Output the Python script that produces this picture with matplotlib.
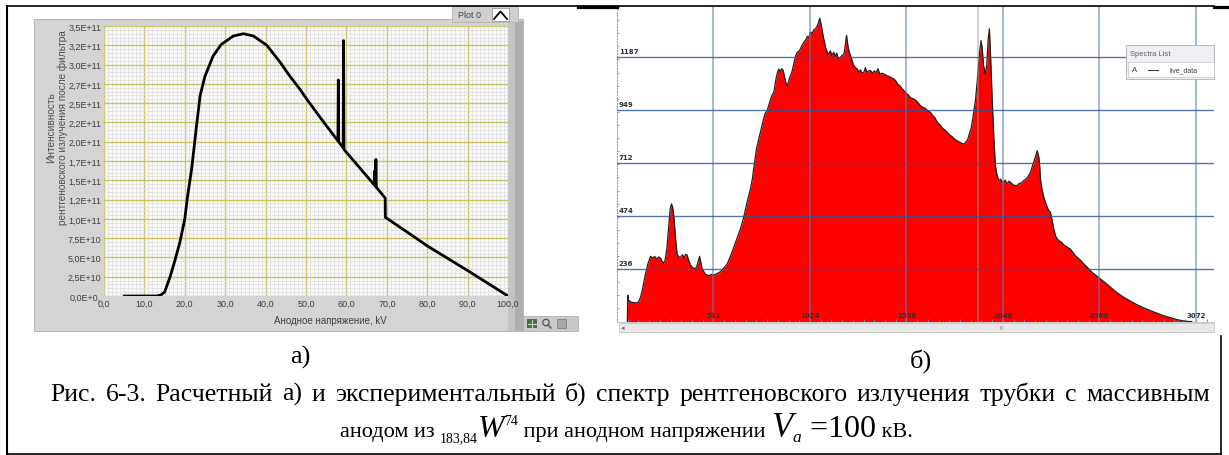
import matplotlib
matplotlib.use("Agg")
import matplotlib.pyplot as plt
from matplotlib.patches import Rectangle, Circle
from matplotlib.ticker import MultipleLocator

W, H = 1229, 456

# calculated spectrum (tube voltage 100 kV), intensity in units of 1e11
kv = [5.0, 13.0, 14.0, 15.0, 16.3, 17.5, 18.8, 20.0, 20.6, 21.7, 23.0, 23.8,
      25.0, 27.0, 29.0, 32.0, 34.5, 37.0, 40.3, 43.6, 46.0, 48.5, 50.2, 54.0,
      57.9, 58.0, 58.1, 59.2, 59.3, 59.4, 62.0, 66.9, 67.0, 67.1, 67.2, 67.3,
      67.4, 69.6, 69.65, 75.0, 80.0, 85.0, 90.0, 95.0, 100.0]
intensity = [0.0, 0.0, 0.01, 0.05, 0.24, 0.45, 0.70, 1.00, 1.26, 1.65, 2.25, 2.60,
             2.85, 3.11, 3.26, 3.37, 3.40, 3.37, 3.25, 3.03, 2.85, 2.68, 2.55, 2.28,
             2.01, 2.80, 2.00, 1.92, 3.31, 1.90, 1.74, 1.44, 1.62, 1.43, 1.42, 1.77,
             1.41, 1.27, 1.02, 0.83, 0.65, 0.49, 0.33, 0.165, 0.0]

kv_ticks = [0, 10, 20, 30, 40, 50, 60, 70, 80, 90, 100]
int_ticks = [0.0, 0.25, 0.5, 0.75, 1.0, 1.25, 1.5, 1.75, 2.0, 2.25, 2.5, 2.75, 3.0, 3.25, 3.5]
int_labels = ["0,0E+0,", "2,5E+10", "5,0E+10", "7,5E+10", "1,0E+11", "1,2E+11",
              "1,5E+11", "1,7E+11", "2,0E+11", "2,2E+11", "2,5E+11", "2,7E+11",
              "3,0E+11", "3,2E+11", "3,5E+11"]

# measured spectrum (counts per channel)
channel = [55, 57, 62, 75, 100, 114, 125, 134, 150, 165, 178, 190, 200, 212, 222, 232,
           240, 247, 255, 265, 274, 282, 289, 295, 302, 310, 319, 328, 337, 348, 356,
           364, 372, 380, 390, 399, 408, 416, 424, 432, 438, 444, 452, 462, 470, 478,
           490, 500, 514, 530, 549, 565, 585, 605, 618, 629, 642, 655, 665, 673, 690,
           708, 718, 726, 740, 750, 761, 775, 786, 797, 810, 822, 832, 845, 852, 859,
           866, 874, 882, 890, 897, 903, 910, 918, 925, 930, 940, 948, 956, 968, 979,
           991, 1000, 1010, 1018, 1027, 1036, 1045, 1053, 1062, 1070, 1076, 1084,
           1090, 1097, 1106, 1115, 1124, 1132, 1140, 1150, 1158, 1166, 1174, 1186,
           1195, 1204, 1212, 1218, 1225, 1232, 1239, 1248, 1256, 1265, 1275, 1283,
           1292, 1300, 1310, 1318, 1326, 1335, 1345, 1355, 1365, 1375, 1385, 1395,
           1405, 1416, 1430, 1443, 1456, 1469, 1480, 1490, 1500, 1510, 1522, 1535,
           1545, 1557, 1575, 1590, 1600, 1610, 1622, 1635, 1650, 1663, 1675, 1687,
           1699, 1712, 1725, 1740, 1752, 1765, 1778, 1790, 1805, 1820, 1830, 1840,
           1850, 1860, 1867, 1880, 1893, 1903, 1911, 1920, 1927, 1932, 1938, 1945,
           1954, 1962, 1970, 1976, 1982, 1991, 2000, 2008, 2016, 2026, 2035, 2044,
           2052, 2060, 2070, 2080, 2088, 2100, 2114, 2125, 2135, 2145, 2158, 2170,
           2180, 2194, 2205, 2215, 2222, 2230, 2238, 2244, 2247, 2255, 2265, 2280,
           2290, 2300, 2310, 2318, 2327, 2336, 2350, 2360, 2371, 2385, 2396, 2406,
           2420, 2430, 2442, 2460, 2477, 2500, 2521, 2545, 2566, 2590, 2619, 2650,
           2689, 2720, 2760, 2800, 2831, 2870, 2901, 2940, 2972, 3000, 3025, 3050]
counts = [0, 119, 95, 87, 84, 88, 110, 140, 210, 262, 293, 286, 292, 280, 290, 284,
          270, 262, 275, 330, 420, 505, 528, 515, 470, 380, 303, 290, 290, 300, 285,
          302, 299, 275, 255, 244, 240, 236, 250, 275, 293, 270, 236, 222, 212, 209,
          206, 212, 209, 215, 224, 238, 259, 300, 330, 356, 385, 416, 445, 471, 535,
          595, 640, 690, 775, 810, 850, 900, 935, 947, 985, 1015, 1030, 1095, 1120, 1134,
          1120, 1135, 1127, 1095, 1070, 1059, 1075, 1100, 1112, 1127, 1165, 1192, 1209,
          1215, 1235, 1254, 1262, 1280, 1275, 1299, 1295, 1310, 1314, 1325, 1345, 1362,
          1330, 1300, 1269, 1235, 1209, 1200, 1215, 1195, 1209, 1190, 1205, 1180, 1187,
          1195, 1200, 1245, 1285, 1240, 1210, 1194, 1170, 1150, 1140, 1134, 1120,
          1130, 1115, 1119, 1140, 1120, 1125, 1127, 1115, 1125, 1118, 1135, 1110,
          1115, 1112, 1105, 1100, 1095, 1089, 1080, 1065, 1060, 1048, 1037, 1025,
          1018, 1005, 999, 990, 980, 969, 962, 958, 945, 940, 925, 915,
          895, 885, 870, 860, 850, 838, 830, 820, 812, 805, 800, 797,
          805, 815, 835, 870, 940, 1000, 1074, 1170, 1230, 1261, 1225, 1150,
          1112, 1150, 1270, 1314, 1200, 999, 820, 700, 660, 633, 640, 625,
          628, 635, 618, 630, 625, 615, 610, 612, 620, 622, 633, 640,
          650, 670, 700, 725, 745, 767, 740, 690, 640, 595, 558, 520,
          500, 491, 450, 416, 385, 371, 360, 355, 344, 337, 330, 326,
          310, 298, 289, 275, 259, 240, 221, 205, 191, 175, 154, 132,
          109, 94, 75, 60, 49, 36, 26, 17, 9, 4, 1, 0]
channel_ticks = [512, 1024, 1536, 2048, 2560, 3072]
count_ticks = [236, 474, 712, 949, 1187]
cursor_channel = 1918

caption_1 = ("Рис. 6-3. Расчетный а) и экспериментальный б) спектр рентгеновского "
             "излучения трубки с массивным")

fig = plt.figure(figsize=(W / 100, H / 100), dpi=100)


def px_rect(x0, y0, x1, y1):
    return [x0 / W, 1 - y1 / H, (x1 - x0) / W, (y1 - y0) / H]


# pixel-space layers behind and in front of the plots
bg = fig.add_axes([0, 0, 1, 1], zorder=0)
bg.set_xlim(0, W)
bg.set_ylim(H, 0)
bg.axis("off")
top = fig.add_axes([0, 0, 1, 1], zorder=10)
top.set_xlim(0, W)
top.set_ylim(H, 0)
top.axis("off")
top.patch.set_alpha(0)

# ---- left: LabVIEW style graph ----
bg.add_patch(Rectangle((34, 20), 489, 312, fc="#d4d4d4", ec="#b8b8b8", lw=0.8))
bg.add_patch(Rectangle((508, 22), 15, 310, fc="#c4c4c4", ec="none"))
bg.add_patch(Rectangle((515, 22), 8, 310, fc="#b0b0b0", ec="none"))
bg.add_patch(Rectangle((452, 7), 66, 16, fc="#cfcfcf", ec="#b5b5b5", lw=0.6))
bg.add_patch(Rectangle((492, 9), 17, 13, fc="white", ec="#9a9a9a", lw=0.6))
bg.plot([494, 500.5, 507], [20, 12.5, 20], color="black", lw=1.3)
bg.text(470, 15.5, "Plot 0", fontsize=6.5, color="#474747", ha="center", va="center",
        family="Liberation Sans")
bg.add_patch(Rectangle((523, 317), 55, 15, fc="#c9c9c9", ec="#b0b0b0", lw=0.6))
bg.add_patch(Rectangle((527, 320), 10, 9, fc="#4e6b4e", ec="none"))
bg.plot([528, 536], [324.5, 324.5], color="#d8e8d8", lw=0.7)
bg.plot([532, 532], [320.5, 328.5], color="#d8e8d8", lw=0.7)
bg.add_patch(Circle((546, 323.5), 3.2, fc="none", ec="#555", lw=0.9))
bg.plot([548, 551], [326, 329], color="#555", lw=1.0)
bg.add_patch(Rectangle((557, 320), 9, 9, fc="#a9a9a9", ec="#777", lw=0.5))

ax1 = fig.add_axes(px_rect(104, 27, 508, 297), zorder=2)
ax1.set_facecolor("#f9f9f9")
ax1.set_xlim(0, 100)
ax1.set_ylim(0, 3.5)
ax1.xaxis.set_minor_locator(MultipleLocator(1))
ax1.yaxis.set_minor_locator(MultipleLocator(0.05))
ax1.set_axisbelow(True)
ax1.grid(which="minor", color="#e1e1e1", lw=0.6)
ax1.grid(which="major", color="#cdc664", lw=1.0)
ax1.plot(kv, intensity, color="black", lw=2.0)
ax1.set_xticks(kv_ticks, [f"{v:.1f}".replace(".", ",") for v in kv_ticks])
ax1.set_yticks(int_ticks, int_labels)
ax1.tick_params(which="both", length=0, labelsize=6.5, labelcolor="#404040", pad=2)
for lab in ax1.get_xticklabels() + ax1.get_yticklabels():
    lab.set_family("Liberation Sans")
for s in ax1.spines.values():
    s.set_visible(False)

bg.text(330, 321, "Анодное напряжение, kV", fontsize=7, color="#404040",
        ha="center", va="center", family="Liberation Sans")
bg.text(57, 128, "Интенсивность\nрентгеновского излучения после фильтра",
        fontsize=7.2, color="#505050", rotation=90, ha="center", va="center",
        multialignment="center", family="Liberation Sans", linespacing=1.2)

# ---- right: measured spectrum ----
ax2 = fig.add_axes(px_rect(617, 8, 1214, 322.6), zorder=2)
ax2.set_xlim(0, 3168)
ax2.set_ylim(0, 1412)
ax2.fill_between(channel, counts, color="#ff0000", lw=0, zorder=1)
ax2.plot(channel, counts, color="#202020", lw=0.9, zorder=2)
ax2.axvline(cursor_channel, color="#9a9a9a", lw=1.4, alpha=0.45, zorder=2.5)
for c in channel_ticks:
    ax2.axvline(c, color="#5a7fb5", lw=1.4, alpha=0.55, zorder=3)
    ax2.text(c, 14, str(c), ha="center", va="bottom", fontsize=5, color="#303030",
             fontweight="bold", zorder=4)
for n in count_ticks:
    ax2.axhline(n, color="#2a5592", lw=1.0, alpha=0.8, zorder=3)
    ax2.text(10, n + 14, str(n), ha="left", va="bottom", fontsize=5, color="#303030",
             fontweight="bold", zorder=4)
ax2.xaxis.set_major_locator(MultipleLocator(512 / 9))
ax2.yaxis.set_major_locator(MultipleLocator(1412 / 24))
ax2.tick_params(axis="x", direction="in", length=2.5, width=0.6, color="#6f8fb8",
                labelbottom=False)
ax2.tick_params(axis="y", direction="in", length=1.5, width=0.6, color="#6f8fb8",
                labelleft=False)
for side in ("top", "right"):
    ax2.spines[side].set_visible(False)
ax2.spines["left"].set_linestyle(":")
ax2.spines["left"].set_color("#8aa2c4")
ax2.spines["bottom"].set_color("#c8c8c8")

# scrollbar under the spectrum
bg.add_patch(Rectangle((619, 324), 595, 9, fc="#e8e8e8", ec="#c6c6c6", lw=0.6))
bg.text(623, 328.5, "◂", fontsize=5, color="#707070", ha="center", va="center")
bg.text(1002, 328.5, "III", fontsize=4, color="#909090", ha="center", va="center")

# legend window over the spectrum
top.add_patch(Rectangle((1126, 46), 88, 34, fc="#eef0f3", ec="#a9b1bd", lw=0.6))
top.text(1130, 54.5, "Spectra List", fontsize=5.5, color="#606060", va="center",
         family="Liberation Sans")
top.add_patch(Rectangle((1128, 63), 86, 15, fc="white", ec="#c8c8c8", lw=0.5))
top.text(1132, 70.5, "A", fontsize=5.5, color="#404040", va="center", family="Liberation Sans")
top.plot([1148, 1158], [70.5, 70.5], color="#404040", lw=0.8)
top.text(1170, 70.5, "live_data", fontsize=5, color="#404040", va="center",
         family="Liberation Sans")

# ---- table borders ----
top.plot([7, 1214], [7, 7], color="black", lw=1.2)
top.plot([578, 617], [7.5, 7.5], color="black", lw=2.3)
top.plot([1214, 1229], [7.5, 7.5], color="black", lw=2.3)
top.plot([7, 7], [7, 456], color="black", lw=1.5)
top.plot([1221, 1221], [337, 455], color="black", lw=1.2)
top.plot([7, 1221], [455, 455], color="black", lw=1.2)

# ---- captions ----
serif = "Liberation Serif"
renderer = fig.canvas.get_renderer()

top.text(300, 364, "а)", fontsize=19, family=serif, ha="center", va="baseline")
top.text(921, 368, "б)", fontsize=19, family=serif, ha="center", va="baseline")


def put_justified(text, x0, x1, y_base, size):
    words = [top.text(0, y_base, w, fontsize=size, family=serif, ha="left",
                      va="baseline") for w in text.split(" ")]
    widths = [t.get_window_extent(renderer).width for t in words]
    gap = (x1 - x0 - sum(widths)) / (len(words) - 1)
    x = x0
    for t, w in zip(words, widths):
        t.set_x(x)
        x += w + gap


def put_line(pieces, xc, y_base):
    objs = []
    for s, size, style, dy in pieces:
        objs.append(top.text(0, y_base + dy, s, fontsize=size, fontstyle=style,
                             family=serif, ha="left", va="baseline"))
    widths = [t.get_window_extent(renderer).width for t in objs]
    x = xc - sum(widths) / 2
    for t, w in zip(objs, widths):
        t.set_x(x)
        x += w


put_justified(caption_1, 50, 1210, 401, 18.5)
put_line([("анодом из ", 16, "normal", 0),
          ("183,84", 10, "normal", 5),
          ("W", 23, "italic", 0),
          ("74", 10, "normal", -12),
          (" при анодном напряжении ", 16, "normal", 0),
          ("V", 25, "italic", 0),
          ("a", 12.5, "italic", 5),
          (" =100", 23, "normal", 0),
          (" кВ.", 16, "normal", 0)], 626, 437)

fig.savefig("out.png", dpi=100)
